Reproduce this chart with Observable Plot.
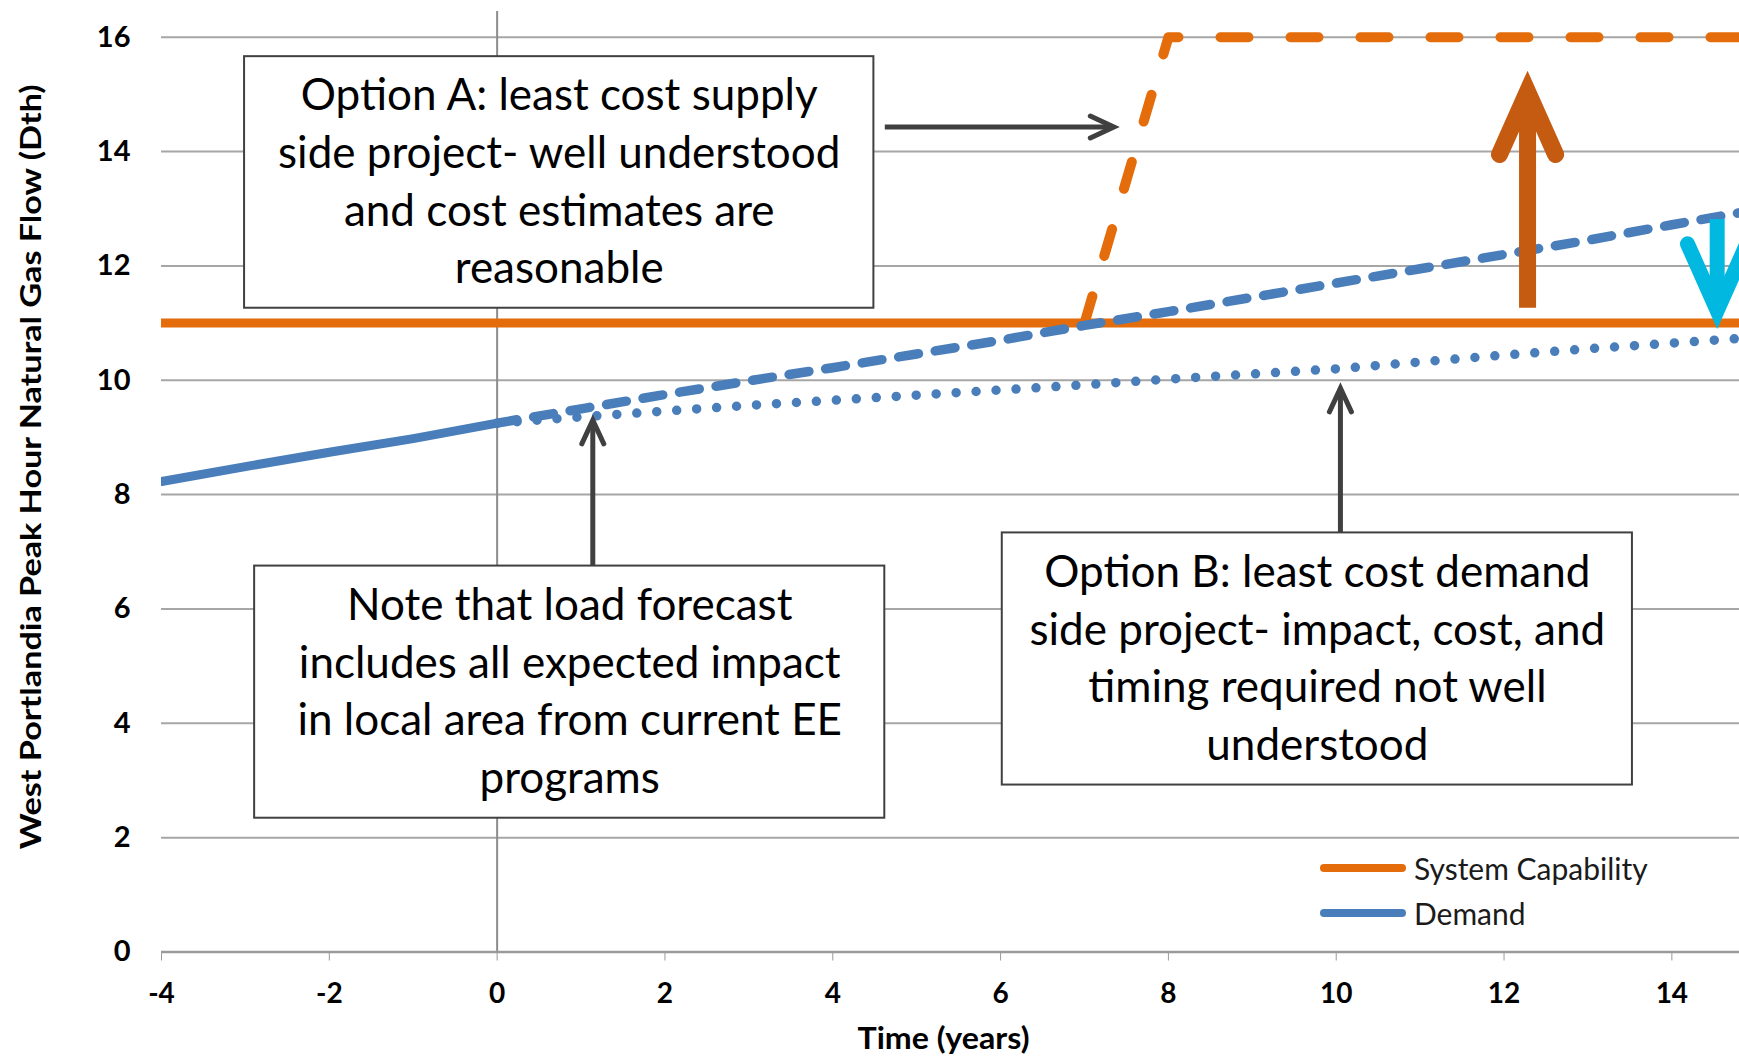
<!DOCTYPE html>
<html>
<head>
<meta charset="utf-8">
<script src="https://cdn.jsdelivr.net/npm/d3@7"></script>
<script src="https://cdn.jsdelivr.net/npm/@observablehq/plot@0.6"></script>
<style>
  body { margin: 0; background: #fff; }
  #chart { position: relative; width: 1739px; height: 1057px; overflow: hidden; }
  #chart svg { display: block; }
  .legend { position: absolute; left: 1320px; top: 846px; font-family: Lato, sans-serif; font-size: 30px; color: #1b1b1b; }
  .legend .item { display: flex; align-items: center; height: 44.5px; }
  .legend .swatch { width: 86px; height: 8px; border-radius: 4px; margin-right: 8px; }
</style>
</head>
<body>
<div id="chart"></div>
<script>
// Axis ticks and titles
const xTicks = [-4, -2, 0, 2, 4, 6, 8, 10, 12, 14];
const yTicks = [0, 2, 4, 6, 8, 10, 12, 14, 16];
const xTitle = "Time (years)";
const yTitle = "West Portlandia Peak Hour Natural Gas Flow (Dth)";

// System capability today, and Option A (supply-side project on line by year 8)
const capabilityYears = [-4, 15];
const capabilityFlow = [11, 11];
const optionAYears = [7, 8, 15];
const optionAFlow = [11, 16, 16];

// Peak hour demand: history, high forecast, and forecast with Option B
const historyYears = [-4, -3, -2, -1, 0];
const historyFlow = [8.23, 8.49, 8.74, 8.98, 9.25];
const forecastYears = [0, 1, 2, 3, 4, 5, 6, 7, 8, 9, 10, 11, 12, 13, 14, 15];
const highForecastFlow = [9.25, 9.5, 9.75, 9.99, 10.22, 10.46, 10.7, 10.96, 11.2, 11.45, 11.7, 11.95, 12.2, 12.45, 12.72, 12.98];
const lowForecastFlow = [9.25, 9.36, 9.46, 9.56, 9.65, 9.74, 9.83, 9.92, 10.02, 10.11, 10.2, 10.32, 10.44, 10.55, 10.65, 10.75];

// Callout boxes
const boxTexts = [
  "Option A: least cost supply\nside project- well understood\nand cost estimates are\nreasonable",
  "Note that load forecast\nincludes all expected impact\nin local area from current EE\nprograms",
  "Option B: least cost demand\nside project- impact, cost, and\ntiming required not well\nunderstood"
];
const boxLeft = [-3.01, -2.89, 6.02];
const boxRight = [4.49, 4.62, 13.53];
const boxTop = [15.66, 6.75, 7.33];
const boxBottom = [11.26, 2.34, 2.92];

// Pointer arrows from the callouts (start -> tip)
const pointerX1 = [4.62, 1.14, 10.05];
const pointerY1 = [14.43, 6.75, 7.33];
const pointerX2 = [7.35, 1.14, 10.05];
const pointerY2 = [14.43, 9.3, 9.86];
const pointerRotate = [90, 0, 0];

// Capacity increase (Option A) and demand reduction (Option B)
const increaseArrow = {x: 12.28, y1: 11.27, y2: 15.05};
const decreaseArrow = {x: 14.54, y1: 12.82, y2: 11.22};

const legendLabels = ["System Capability", "Demand"];

const orange = "#E46C0A", blue = "#4A7EBB", rust = "#C55A11", cyan = "#00B8E0", ink = "#404040", gridGray = "#a6a6a6";

const zip = (xs, ys) => xs.map((x, i) => ({x, y: ys[i]}));
const capability = zip(capabilityYears, capabilityFlow);
const optionA = zip(optionAYears, optionAFlow);
const history = zip(historyYears, historyFlow);
const highForecast = zip(forecastYears, highForecastFlow);
const lowForecast = zip(forecastYears, lowForecastFlow);
const boxes = boxTexts.map((text, i) => ({text, x1: boxLeft[i], x2: boxRight[i], y1: boxBottom[i], y2: boxTop[i]}));
const pointers = pointerX1.map((x1, i) => ({x1, y1: pointerY1[i], x2: pointerX2[i], y2: pointerY2[i], rotate: pointerRotate[i]}));

// Open chevron arrowhead with its tip at the anchor point, opening backwards
const chevron = (halfAngle) => ({
  draw(context, l) {
    const t = halfAngle * Math.PI / 180;
    const a = l * Math.sin(t), b = l * Math.cos(t);
    context.moveTo(-a, b);
    context.lineTo(0, 0);
    context.lineTo(a, b);
  }
});

const axisFont = "Lato, sans-serif";

const chart = Plot.plot({
  width: 1739,
  height: 1057,
  marginLeft: 161,
  marginRight: 0,
  marginTop: 11,
  marginBottom: 105.5,
  style: {background: "#fff", overflow: "visible"},
  x: {domain: [-4, 14.806]},
  y: {domain: [0, 16.45]},
  marks: [
    // gridlines and the zero-year line
    Plot.ruleY(yTicks.filter(d => d > 0), {stroke: gridGray, strokeWidth: 2}),
    Plot.ruleX([0], {stroke: "#8c8c8c", strokeWidth: 2}),
    Plot.ruleY([0], {stroke: "#9a9a9a", strokeWidth: 2.5}),
    Plot.axisX({ticks: xTicks, tickSize: 9, tickPadding: 22, stroke: "#9a9a9a", fill: "#000",
      tickFormat: d => String(d), fontSize: 28, fontWeight: "bold", fontFamily: axisFont, label: null}),
    Plot.axisY({ticks: yTicks, tickSize: 0, tickPadding: 31, fill: "#000",
      tickFormat: d => String(d), fontSize: 29, fontWeight: "bold", fontFamily: axisFont, label: null}),
    Plot.text([xTitle], {frameAnchor: "bottom", textAnchor: "middle", dx: -7, dy: 97, fontSize: 30,
      fontWeight: "bold", fontFamily: axisFont, fill: "#000"}),
    Plot.text([yTitle], {frameAnchor: "left", textAnchor: "middle", rotate: -90, dx: -130, dy: -15,
      fontSize: 29, fontWeight: "bold", fontFamily: axisFont, fill: "#000"}),

    // capability and Option A
    Plot.line(capability, {x: "x", y: "y", stroke: orange, strokeWidth: 9, clip: true}),
    Plot.line(optionA, {x: "x", y: "y", stroke: orange, strokeWidth: 10, strokeDasharray: "28,42",
      strokeLinecap: "round", strokeLinejoin: "round", clip: true}),

    // demand
    Plot.line(history, {x: "x", y: "y", stroke: blue, strokeWidth: 9, clip: true}),
    Plot.line(lowForecast, {x: "x", y: "y", stroke: blue, strokeWidth: 9.5, strokeDasharray: "0,20",
      strokeLinecap: "round", clip: true}),
    Plot.line(highForecast, {x: "x", y: "y", stroke: blue, strokeWidth: 9.5, strokeDasharray: "20,17",
      strokeLinecap: "round", clip: true}),

    // callouts
    Plot.rect(boxes, {x1: "x1", x2: "x2", y1: "y1", y2: "y2", fill: "#fff", stroke: ink, strokeWidth: 2}),
    Plot.text(boxes, {x: d => (d.x1 + d.x2) / 2, y: d => (d.y1 + d.y2) / 2, dy: -4, text: "text",
      fontSize: 44, lineHeight: 1.31, fontFamily: "Lato, sans-serif", fill: "#000"}),

    // pointer arrows
    Plot.link(pointers, {x1: "x1", y1: "y1", x2: "x2", y2: "y2", stroke: ink, strokeWidth: 5}),
    Plot.vector(pointers, {x: "x2", y: "y2", rotate: "rotate", length: 26, anchor: "start", shape: chevron(25),
      stroke: ink, strokeWidth: 5, strokeLinecap: "round", strokeLinejoin: "miter"}),

    // capacity increase
    Plot.link([increaseArrow], {x1: "x", x2: "x", y1: "y1", y2: "y2", stroke: rust, strokeWidth: 17}),
    Plot.vector([increaseArrow], {x: "x", y: "y2", rotate: 0, length: 69, anchor: "start", shape: chevron(24),
      stroke: rust, strokeWidth: 17, strokeLinecap: "round", strokeLinejoin: "miter"}),

    // demand reduction
    Plot.link([decreaseArrow], {x1: "x", x2: "x", y1: "y1", y2: "y2", stroke: cyan, strokeWidth: 15}),
    Plot.vector([decreaseArrow], {x: "x", y: "y2", rotate: 180, length: 73, anchor: "start", shape: chevron(24),
      stroke: cyan, strokeWidth: 15, strokeLinecap: "round", strokeLinejoin: "miter"})
  ]
});

// axis titles are set in a condensed bold face: fit them to their measured span
chart.querySelectorAll("text").forEach(t => {
  if (t.textContent === yTitle) { t.setAttribute("textLength", 765); t.setAttribute("lengthAdjust", "spacingAndGlyphs"); }
  if (t.textContent === xTitle) { t.setAttribute("textLength", 172); t.setAttribute("lengthAdjust", "spacingAndGlyphs"); }
});

const container = document.getElementById("chart");
container.appendChild(chart);

// legend
const legend = document.createElement("div");
legend.className = "legend";
[orange, blue].forEach((color, i) => {
  const item = document.createElement("div");
  item.className = "item";
  const sw = document.createElement("div");
  sw.className = "swatch";
  sw.style.background = color;
  const label = document.createElement("span");
  label.textContent = legendLabels[i];
  item.appendChild(sw);
  item.appendChild(label);
  legend.appendChild(item);
});
container.appendChild(legend);
</script>
</body>
</html>
